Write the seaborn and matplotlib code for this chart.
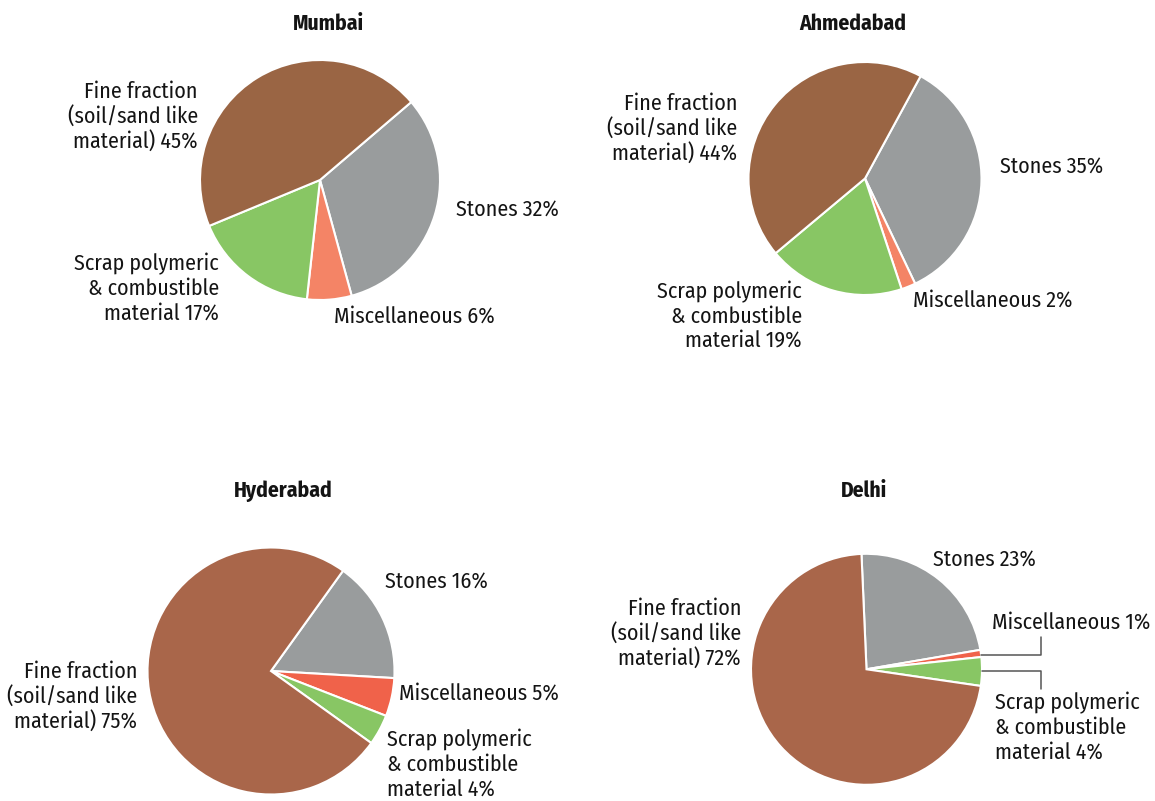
import matplotlib
matplotlib.use("Agg")
import matplotlib.pyplot as plt
import seaborn as sns

# Composition of construction & demolition waste, by city (%)
categories = ["Stones", "Miscellaneous",
              "Scrap polymeric\n& combustible\nmaterial",
              "Fine fraction\n(soil/sand like\nmaterial)"]
cities = ["Mumbai", "Ahmedabad", "Hyderabad", "Delhi"]
mumbai = [32, 6, 17, 45]
ahmedabad = [35, 2, 19, 44]
hyderabad = [16, 5, 4, 75]
delhi = [23, 1, 4, 72]

sns.set_theme(style="white")
plt.rcParams["font.family"] = ["Fira Sans Condensed", "DejaVu Sans"]

W, H = 1155, 801
fig = plt.figure(figsize=(W / 100, H / 100), dpi=100)
fig.patch.set_facecolor("white")

top_colors = ["#999C9D", "#F48466", "#88C664", "#9A6544"]
bot_colors = ["#999C9D", "#F0624A", "#88C664", "#A9664A"]

FS = 15.8
TFS = 15.5
LINE = 25  # px between label lines
INK = "#141414"


def px_text(x, y, s, **kw):
    fig.text(x / W, 1 - y / H, s, **kw)


def draw_pie(values, colors, cx, cy, r, start, title, title_xy, labels):
    ax = fig.add_axes([(cx - r) / W, 1 - (cy + r) / H, 2 * r / W, 2 * r / H])
    ax.pie(values, colors=colors, startangle=start, counterclock=False,
           radius=1, wedgeprops=dict(edgecolor="white", linewidth=1.5))
    ax.set_xlim(-1, 1)
    ax.set_ylim(-1, 1)
    ax.set_aspect("equal")
    ax.axis("off")
    px_text(title_xy[0], title_xy[1], title, ha="center", va="baseline",
            fontsize=TFS, fontweight="bold", color=INK)
    for i, (x, y, ha) in labels.items():
        lines = f"{categories[i]} {values[i]}%".split("\n")
        for k, line in enumerate(lines):
            px_text(x, y + k * LINE, line, ha=ha, va="baseline",
                    fontsize=FS, color=INK)
    return ax


# label anchors: (x, first baseline y, alignment) in figure pixels
draw_pie(mumbai, top_colors, 320, 180, 120, 40.5, cities[0], (328, 30), {
    0: (456, 216, "left"),
    1: (334, 323, "left"),
    2: (219, 270, "right"),
    3: (198, 98, "right"),
})
draw_pie(ahmedabad, top_colors, 865, 178.5, 116.5, 61.5, cities[1], (853, 30), {
    0: (1000, 173, "left"),
    1: (913, 307, "left"),
    2: (802, 298, "right"),
    3: (737, 110, "right"),
})
draw_pie(hyderabad, bot_colors, 271, 671, 123.5, 54.3, cities[2], (283, 497), {
    0: (385, 588, "left"),
    1: (399, 700, "left"),
    2: (387, 746, "left"),
    3: (137, 678, "right"),
})
draw_pie(delhi, bot_colors, 866.5, 669.3, 115.5, 92.5, cities[3], (864, 497), {
    0: (933, 566, "left"),
    1: (992, 629, "left"),
    2: (995, 709, "left"),
    3: (741, 615, "right"),
})


# leader lines for the two thin Delhi slices
def fig_line(xs, ys):
    fig.add_artist(plt.Line2D([x / W for x in xs], [1 - y / H for y in ys],
                              color="#555555", linewidth=1.1))


fig_line([981, 1041, 1041], [655, 655, 637])
fig_line([982, 1041, 1041], [671, 671, 689])

fig.savefig("out.png", dpi=100, facecolor="white")
